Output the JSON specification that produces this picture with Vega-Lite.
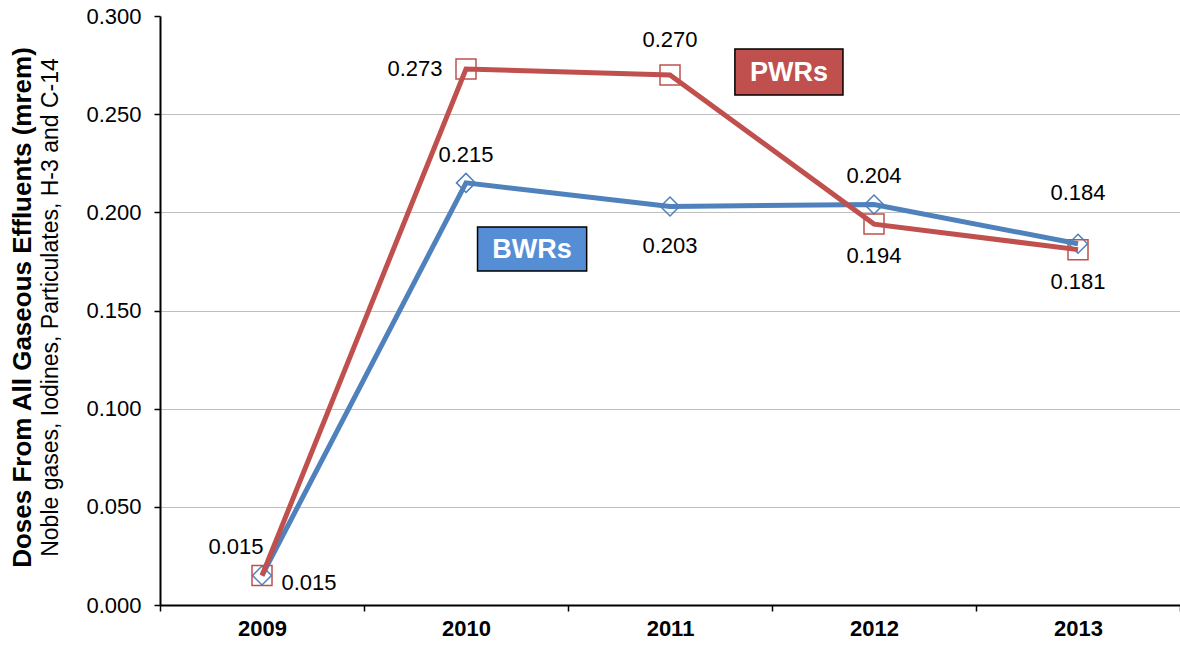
{
  "$schema": "https://vega.github.io/schema/vega-lite/v6.json",
  "width": 1020,
  "height": 589,
  "autosize": "none",
  "padding": {"left": 160, "top": 16, "right": 0, "bottom": 40},
  "background": "white",
  "config": {"font": "Liberation Sans", "view": {"stroke": null}},
  "title": {
    "text": "Doses From All Gaseous Effluents (mrem)",
    "subtitle": "Noble gases, Iodines, Particulates, H-3 and C-14",
    "orient": "left",
    "anchor": "middle",
    "font": "Liberation Sans",
    "fontSize": 26,
    "fontWeight": "bold",
    "color": "black",
    "subtitleFont": "Liberation Sans",
    "subtitleFontSize": 23,
    "subtitleColor": "black",
    "subtitlePadding": 4,
    "offset": 23,
    "dx": 3
  },
  "datasets": {
    "doses": [
      {"year": "2009", "series": "BWRs", "value": 0.015},
      {"year": "2010", "series": "BWRs", "value": 0.215},
      {"year": "2011", "series": "BWRs", "value": 0.203},
      {"year": "2012", "series": "BWRs", "value": 0.204},
      {"year": "2013", "series": "BWRs", "value": 0.184},
      {"year": "2009", "series": "PWRs", "value": 0.015},
      {"year": "2010", "series": "PWRs", "value": 0.273},
      {"year": "2011", "series": "PWRs", "value": 0.270},
      {"year": "2012", "series": "PWRs", "value": 0.194},
      {"year": "2013", "series": "PWRs", "value": 0.181}
    ],
    "pwrLabel": [{"label": "PWRs"}],
    "bwrLabel": [{"label": "BWRs"}]
  },
  "layer": [
    {
      "data": {"name": "doses"},
      "encoding": {
        "x": {
          "field": "year",
          "type": "ordinal",
          "title": null,
          "scale": {"type": "band", "paddingInner": 0, "paddingOuter": 0},
          "axis": {
            "title": null,
            "tickBand": "extent",
            "domainColor": "black",
            "domainWidth": 2,
            "tickColor": "black",
            "tickWidth": 1.5,
            "tickSize": 6,
            "labelFont": "Liberation Sans",
            "labelFontSize": 22,
            "labelFontWeight": "bold",
            "labelColor": "black",
            "labelPadding": 7,
            "labelAngle": 0,
            "grid": false
          }
        },
        "y": {
          "field": "value",
          "type": "quantitative",
          "title": null,
          "scale": {"domain": [0, 0.3], "nice": false, "zero": true},
          "axis": {
            "title": null,
            "values": [0, 0.05, 0.1, 0.15, 0.2, 0.25, 0.3],
            "format": ".3f",
            "domainColor": "black",
            "domainWidth": 2,
            "tickColor": "black",
            "tickWidth": 1.5,
            "tickSize": 6,
            "labelFont": "Liberation Sans",
            "labelFontSize": 22,
            "labelColor": "black",
            "labelPadding": 13,
            "grid": true,
            "gridColor": "#BFBFBF",
            "gridWidth": 1.2,
            "gridOpacity": {"condition": {"test": "datum.value >= 0.3", "value": 0}, "value": 1}
          }
        }
      },
      "layer": [
        {
          "transform": [{"filter": "datum.series === 'BWRs'"}],
          "mark": {"type": "point", "shape": "diamond", "size": 361, "filled": false, "stroke": "#4F81BD", "strokeWidth": 1.5, "opacity": 1}
        },
        {
          "transform": [{"filter": "datum.series === 'PWRs'"}],
          "mark": {"type": "point", "shape": "square", "size": 400, "filled": false, "stroke": "#C0504D", "strokeWidth": 1.5, "opacity": 1}
        },
        {
          "transform": [{"filter": "datum.series === 'BWRs'"}],
          "mark": {"type": "line", "color": "#4F81BD", "strokeWidth": 5}
        },
        {
          "transform": [{"filter": "datum.series === 'PWRs'"}],
          "mark": {"type": "line", "color": "#C0504D", "strokeWidth": 5}
        },
        {
          "transform": [{"filter": "datum.series === 'BWRs' && (datum.year === '2010' || datum.year === '2012')"}],
          "mark": {"type": "text", "fontSize": 22, "color": "black", "baseline": "middle", "align": "center", "dy": -28},
          "encoding": {"text": {"field": "value", "type": "quantitative", "format": ".3f"}}
        },
        {
          "transform": [{"filter": "datum.series === 'PWRs' && datum.year === '2011'"}],
          "mark": {"type": "text", "fontSize": 22, "color": "black", "baseline": "middle", "align": "center", "dy": -35},
          "encoding": {"text": {"field": "value", "type": "quantitative", "format": ".3f"}}
        },
        {
          "transform": [{"filter": "datum.series === 'BWRs' && datum.year === '2013'"}],
          "mark": {"type": "text", "fontSize": 22, "color": "black", "baseline": "middle", "align": "center", "dy": -51},
          "encoding": {"text": {"field": "value", "type": "quantitative", "format": ".3f"}}
        },
        {
          "transform": [{"filter": "datum.series === 'PWRs' && datum.year === '2009'"}],
          "mark": {"type": "text", "fontSize": 22, "color": "black", "baseline": "middle", "align": "center", "dx": -26, "dy": -29},
          "encoding": {"text": {"field": "value", "type": "quantitative", "format": ".3f"}}
        },
        {
          "transform": [{"filter": "datum.series === 'PWRs' && (datum.year === '2012' || datum.year === '2013')"}],
          "mark": {"type": "text", "fontSize": 22, "color": "black", "baseline": "middle", "align": "center", "dy": 32},
          "encoding": {"text": {"field": "value", "type": "quantitative", "format": ".3f"}}
        },
        {
          "transform": [{"filter": "datum.series === 'BWRs' && datum.year === '2011'"}],
          "mark": {"type": "text", "fontSize": 22, "color": "black", "baseline": "middle", "align": "center", "dy": 40},
          "encoding": {"text": {"field": "value", "type": "quantitative", "format": ".3f"}}
        },
        {
          "transform": [{"filter": "datum.series === 'BWRs' && datum.year === '2009'"}],
          "mark": {"type": "text", "fontSize": 22, "color": "black", "baseline": "middle", "align": "center", "dx": 47, "dy": 7},
          "encoding": {"text": {"field": "value", "type": "quantitative", "format": ".3f"}}
        },
        {
          "transform": [{"filter": "datum.series === 'PWRs' && datum.year === '2010'"}],
          "mark": {"type": "text", "fontSize": 22, "color": "black", "baseline": "middle", "align": "center", "dx": -51},
          "encoding": {"text": {"field": "value", "type": "quantitative", "format": ".3f"}}
        }
      ]
    },
    {
      "data": {"name": "pwrLabel"},
      "encoding": {
        "x": {"datum": "2012", "type": "ordinal", "bandPosition": 0.083},
        "y": {"datum": 0.2715, "type": "quantitative"}
      },
      "layer": [
        {
          "mark": {"type": "point", "shape": "M-2.35,-1H2.35V1H-2.35Z", "size": 2116, "filled": true, "fill": "#C0504D", "stroke": "black", "strokeWidth": 1.5, "opacity": 1}
        },
        {
          "mark": {"type": "text", "fontSize": 27, "fontWeight": "bold", "color": "white", "baseline": "middle", "align": "center", "dy": 1},
          "encoding": {"text": {"field": "label"}}
        }
      ]
    },
    {
      "data": {"name": "bwrLabel"},
      "encoding": {
        "x": {"datum": "2010", "type": "ordinal", "bandPosition": 0.824},
        "y": {"datum": 0.1813, "type": "quantitative"}
      },
      "layer": [
        {
          "mark": {"type": "point", "shape": "M-2.48,-1H2.48V1H-2.48Z", "size": 1936, "filled": true, "fill": "#558ED5", "stroke": "black", "strokeWidth": 1.5, "opacity": 1}
        },
        {
          "mark": {"type": "text", "fontSize": 27, "fontWeight": "bold", "color": "white", "baseline": "middle", "align": "center", "dy": 1},
          "encoding": {"text": {"field": "label"}}
        }
      ]
    }
  ]
}
